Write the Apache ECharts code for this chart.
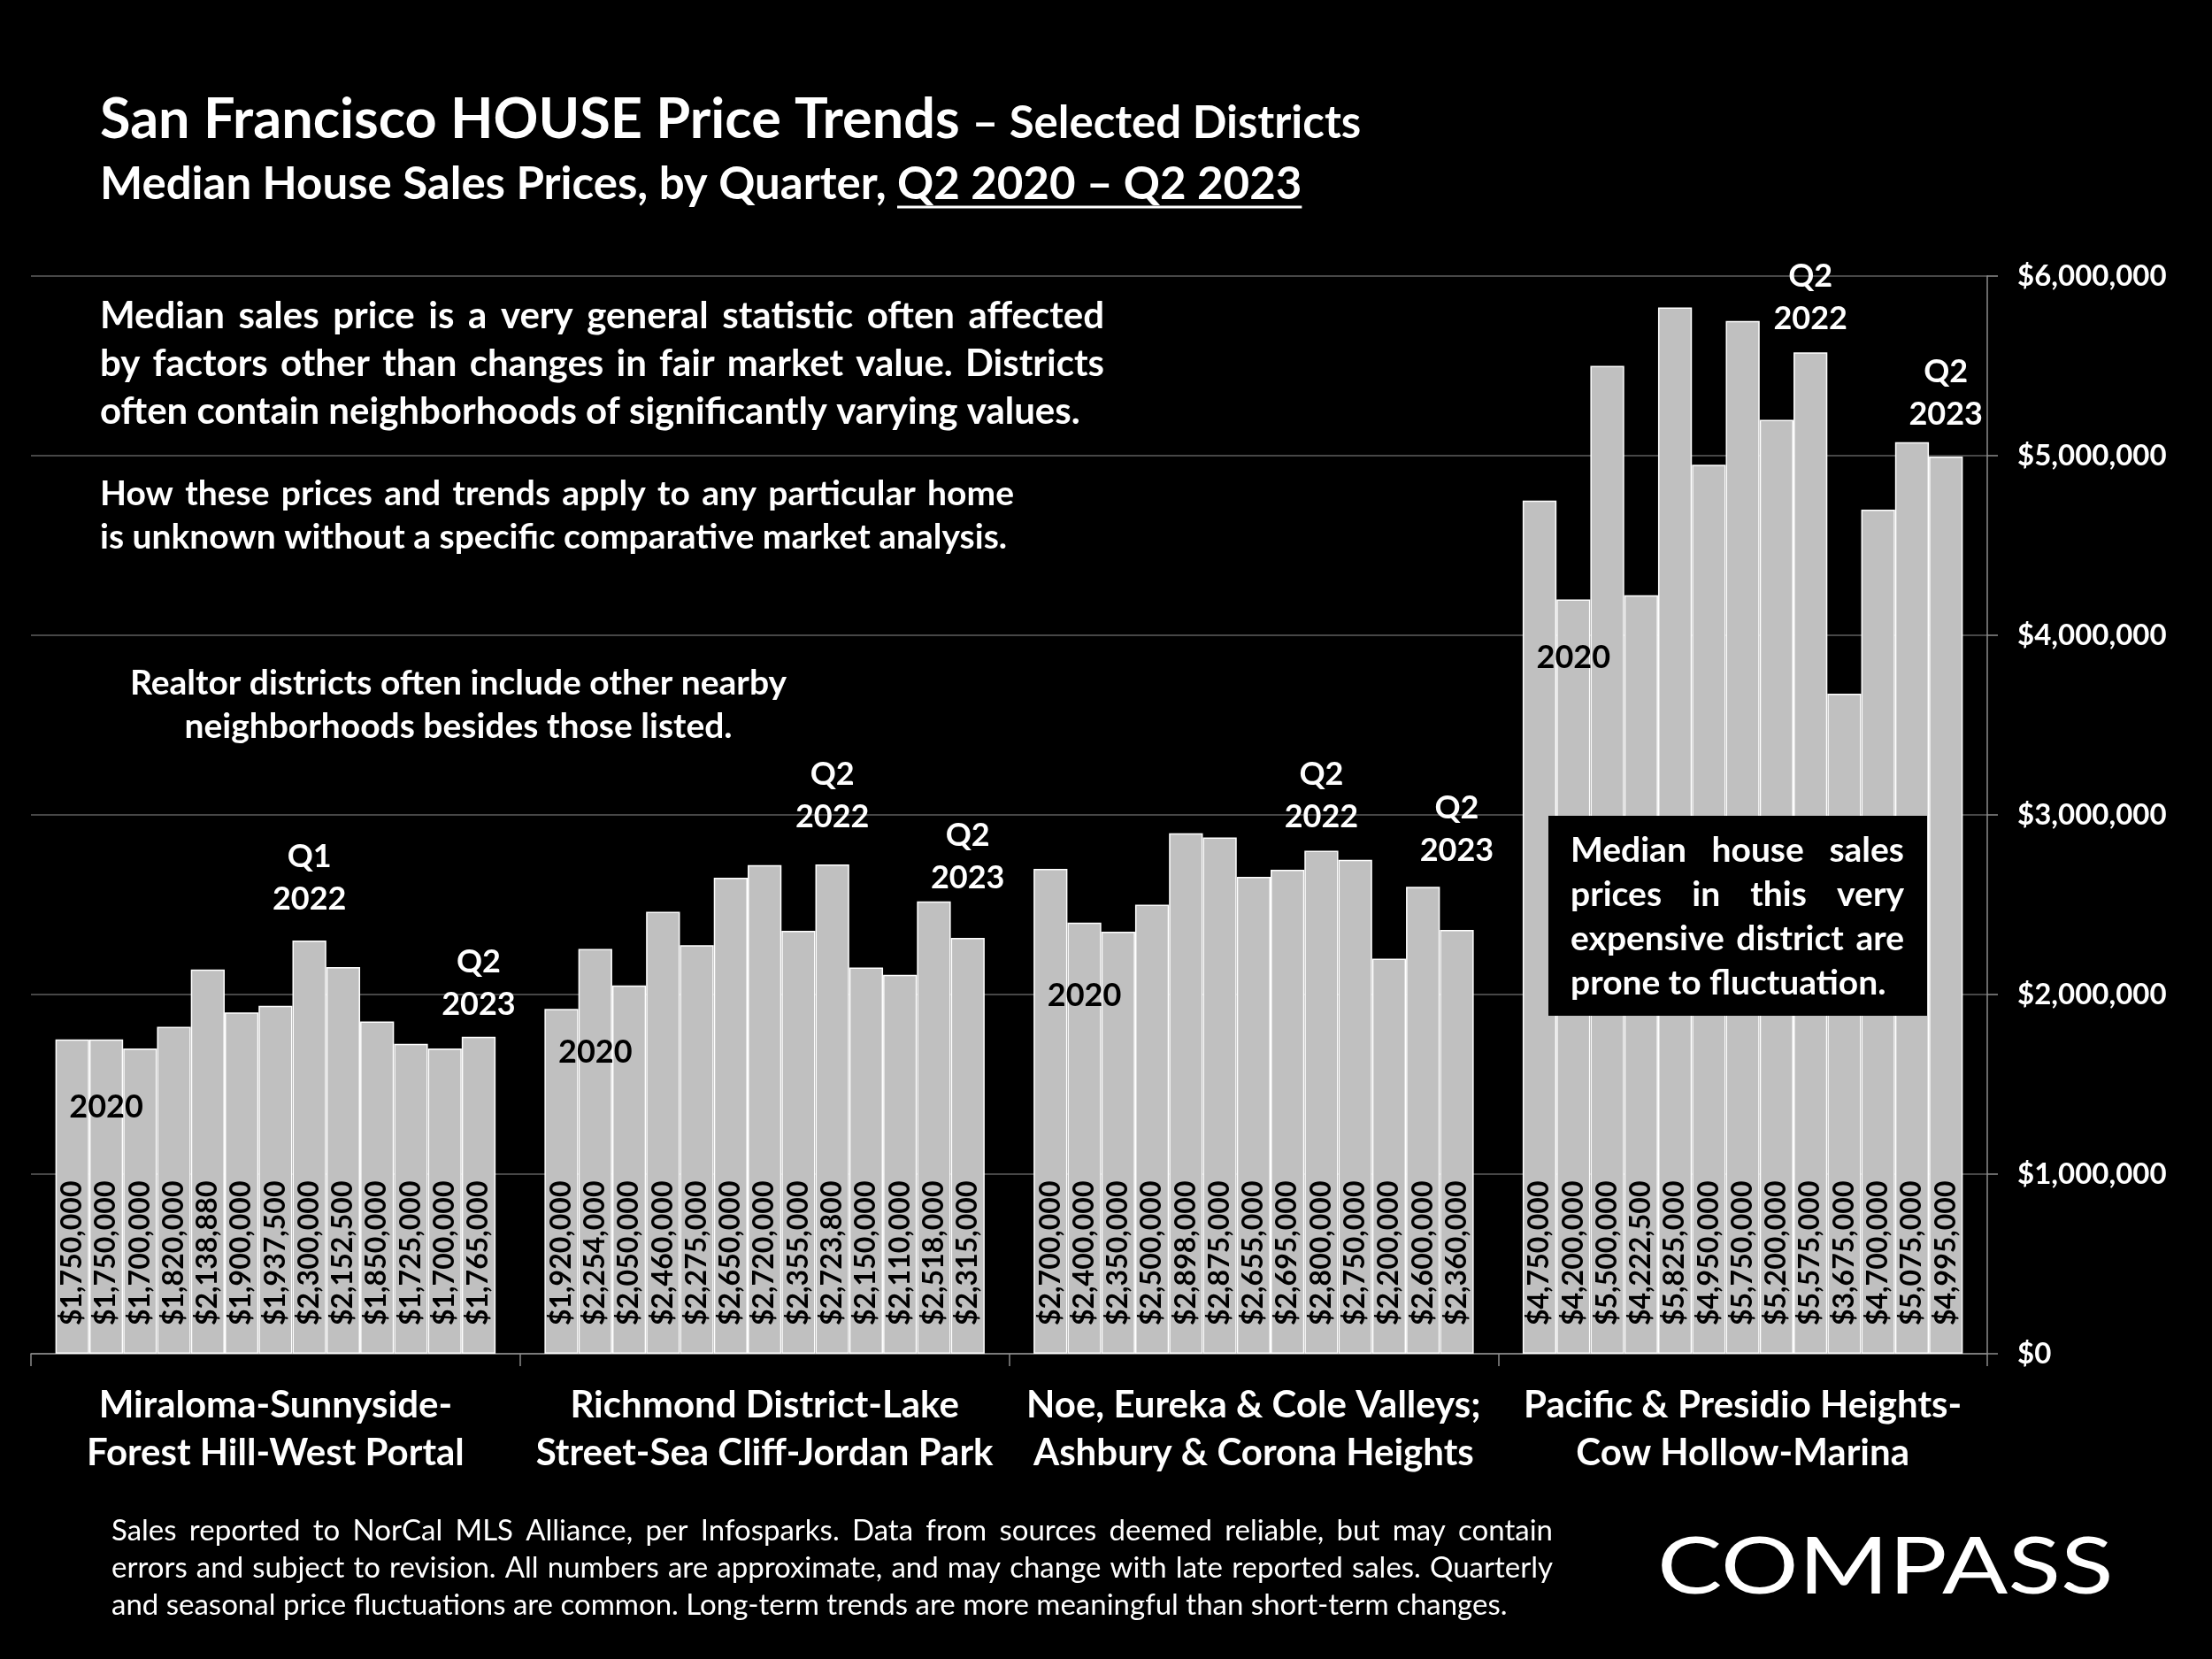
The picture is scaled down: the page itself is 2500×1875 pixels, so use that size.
<!DOCTYPE html>
<html><head><meta charset="utf-8">
<script src="https://cdn.jsdelivr.net/npm/echarts@6/dist/echarts.min.js"></script>
<style>html,body{margin:0;padding:0;background:#000}#c{width:2500px;height:1875px}</style>
</head><body><div id="c"></div>
<script>
const districts = [
  'Miraloma-Sunnyside-\nForest Hill-West Portal',
  'Richmond District-Lake\nStreet-Sea Cliff-Jordan Park',
  'Noe, Eureka & Cole Valleys;\nAshbury & Corona Heights',
  'Pacific & Presidio Heights-\nCow Hollow-Marina'
];
const quarters = ['Q2 2020','Q3 2020','Q4 2020','Q1 2021','Q2 2021','Q3 2021','Q4 2021',
                  'Q1 2022','Q2 2022','Q3 2022','Q4 2022','Q1 2023','Q2 2023'];
const miraloma = [1750000,1750000,1700000,1820000,2138880,1900000,1937500,2300000,2152500,1850000,1725000,1700000,1765000];
const richmond = [1920000,2254000,2050000,2460000,2275000,2650000,2720000,2355000,2723800,2150000,2110000,2518000,2315000];
const noe      = [2700000,2400000,2350000,2500000,2898000,2875000,2655000,2695000,2800000,2750000,2200000,2600000,2360000];
const pacific  = [4750000,4200000,5500000,4222500,5825000,4950000,5750000,5200000,5575000,3675000,4700000,5075000,4995000];
const yMin = 0, yMax = 6000000, yStep = 1000000;

// annotation labels: district index, quarter index, text, anchor value, on-bar (dark text)
const annDistrict = [0, 0, 0, 1, 1, 1, 2, 2, 2, 3, 3, 3];
const annQuarter  = [1, 7, 12, 1, 8, 12, 1, 8, 12, 1, 8, 12];
const annText     = ['2020','Q1\n2022','Q2\n2023','2020','Q2\n2022','Q2\n2023','2020','Q2\n2022','Q2\n2023','2020','Q2\n2022','Q2\n2023'];
const annValue    = [1373000, 2648000, 2062000, 1678000, 3105000, 2766000, 1993000, 3105000, 2918000, 3873000, 5881000, 5349000];
const annOnBar    = [true, false, false, true, false, false, true, false, false, true, false, false];

const note1 = ['Median sales price is a very general statistic often affected',
               'by factors other than changes in fair market value. Districts',
               'often contain neighborhoods of significantly varying values.'];
const note2 = ['How these prices and trends apply to any particular home',
               'is unknown without a specific comparative market analysis.'];
const note3 = ['Realtor districts often include other nearby',
               'neighborhoods besides those listed.'];
const note4 = ['Median house sales', 'prices in this very', 'expensive district are', 'prone to fluctuation.'];
const footer = ['Sales reported to NorCal MLS Alliance, per Infosparks. Data from sources deemed reliable, but may contain',
                'errors and subject to revision. All numbers are approximate, and may change with late reported sales. Quarterly',
                'and seasonal price fluctuations are common. Long-term trends are more meaningful than short-term changes.'];

const FONT = 'Lato, "Open Sans", "Noto Sans", sans-serif';
const money = v => '$' + Number(v).toLocaleString('en-US');

const mctx = document.createElement('canvas').getContext('2d');
function fontStr(size, weight) { return (weight || 'normal') + ' ' + size + 'px ' + FONT; }
function tw(text, size, weight) { mctx.font = fontStr(size, weight); return mctx.measureText(text).width; }

// build text lines; justified lines are laid out word by word across the given width
function textBlock(lines, opt) {
  const els = [];
  const font = fontStr(opt.size, opt.weight);
  lines.forEach((line, i) => {
    const cy = opt.y + i * opt.lh;
    const just = opt.justify && opt.justify[i];
    if (just) {
      const words = line.split(' ');
      const widths = words.map(w => tw(w, opt.size, opt.weight));
      const total = widths.reduce((a, b) => a + b, 0);
      const gap = (opt.width - total) / (words.length - 1);
      let x = opt.x;
      words.forEach((w, k) => {
        els.push({ type: 'text', x: x, y: cy, z: opt.z || 10, silent: true,
          style: { text: w, fill: '#fff', font: font, verticalAlign: 'middle', align: 'left' } });
        x += widths[k] + gap;
      });
    } else {
      els.push({ type: 'text', x: opt.x, y: cy, z: opt.z || 10, silent: true,
        style: { text: line, fill: '#fff', font: font, verticalAlign: 'middle', align: opt.align || 'left' } });
    }
  });
  return els;
}

const groups = [miraloma, richmond, noe, pacific];
const series = quarters.map((q, i) => {
  const marks = [];
  annQuarter.forEach((qq, k) => {
    if (qq === i) marks.push({
      coord: [annDistrict[k], annValue[k]],
      value: annValue[k],
      label: { formatter: annText[k], color: annOnBar[k] ? '#000' : '#fff' }
    });
  });
  return {
    type: 'bar', name: q,
    data: groups.map(g => g[i]),
    barGap: '0%', barCategoryGap: '10%',
    itemStyle: { color: '#c0c0c0', borderColor: '#ffffff', borderWidth: 1.5 },
    label: {
      show: true, position: 'insideBottom', distance: 32, rotate: 90,
      align: 'left', verticalAlign: 'middle',
      formatter: p => money(p.value),
      color: '#000', fontFamily: FONT, fontSize: 32, fontWeight: 'bold'
    },
    emphasis: { disabled: true },
    markPoint: {
      silent: true, animation: false, symbol: 'circle', symbolSize: 1,
      itemStyle: { color: 'rgba(0,0,0,0)' },
      label: { show: true, position: 'inside', fontFamily: FONT, fontSize: 36, fontWeight: 'bold', lineHeight: 48 },
      data: marks
    }
  };
});

const titleA = 'San Francisco HOUSE Price Trends';
const titleB = '– Selected Districts';
const line2A = 'Median House Sales Prices, by Quarter, ';
const line2B = 'Q2 2020 – Q2 2023';
const tA = tw(titleA, 63, 'bold');
const l2A = tw(line2A, 51, 'bold'), l2B = tw(line2B, 51, 'bold');

const graphics = [
  { type: 'text', x: 113, y: 136, z: 10, style: { text: titleA, fill: '#fff', font: fontStr(63, 'bold'), verticalAlign: 'middle' } },
  { type: 'text', x: 113 + tA + 14, y: 140, z: 10, style: { text: titleB, fill: '#fff', font: fontStr(51, 'bold'), verticalAlign: 'middle' } },
  { type: 'text', x: 113, y: 209, z: 10, style: { text: line2A + line2B, fill: '#fff', font: fontStr(51, 'bold'), verticalAlign: 'middle' } },
  { type: 'line', z: 10, shape: { x1: 113 + l2A, y1: 234, x2: 113 + l2A + l2B, y2: 234 }, style: { stroke: '#fff', lineWidth: 3 } }
]
.concat(textBlock(note1, { x: 113, y: 357, lh: 54, size: 42, weight: 'bold', width: 1135, justify: [true, true, false] }))
.concat(textBlock(note2, { x: 113, y: 558, lh: 49, size: 39, weight: 'bold', width: 1033, justify: [true, false] }))
.concat(textBlock(note3, { x: 518, y: 772, lh: 49, size: 39, weight: 'bold', align: 'center' }))
.concat([{ type: 'rect', z: 20, silent: true, shape: { x: 1750, y: 922, width: 428, height: 226 }, style: { fill: '#000' } }])
.concat(textBlock(note4, { x: 1775, y: 961, lh: 50, size: 39, weight: 'bold', width: 377, justify: [true, true, true, false], z: 21 }))
.concat(textBlock(footer, { x: 126, y: 1730, lh: 42, size: 33, weight: 'normal', width: 1629, justify: [true, true, false] }))
.concat([{ type: 'text', x: 1873, y: 1772, scaleX: 1.22, z: 10, style: {
  text: 'COMPASS', fill: '#fff', font: fontStr(90, 'normal'), verticalAlign: 'middle' } }]);

const chart = echarts.init(document.getElementById('c'), null, { renderer: 'canvas' });
chart.setOption({
  backgroundColor: '#000',
  animation: false,
  grid: { left: 35, right: 254, top: 312, bottom: 345, containLabel: false },
  xAxis: {
    type: 'category', data: districts,
    axisLine: { show: true, lineStyle: { color: '#8c8c8c', width: 1.5 } },
    axisTick: { show: true, length: 14, lineStyle: { color: '#8c8c8c', width: 1.5 } },
    axisLabel: { color: '#fff', fontFamily: FONT, fontSize: 42, fontWeight: 'bold', lineHeight: 54, margin: 31, interval: 0 }
  },
  yAxis: {
    type: 'value', position: 'right', min: yMin, max: yMax, interval: yStep,
    axisLine: { show: true, lineStyle: { color: '#8c8c8c', width: 1.5 } },
    axisTick: { show: true, length: 12, lineStyle: { color: '#8c8c8c', width: 1.5 } },
    splitLine: { show: true, lineStyle: { color: '#5f5f5f', width: 1.5 } },
    axisLabel: { color: '#fff', fontFamily: FONT, fontSize: 33, fontWeight: 'bold', margin: 34, formatter: v => money(v) }
  },
  series: series,
  graphic: graphics
});
</script></body></html>
